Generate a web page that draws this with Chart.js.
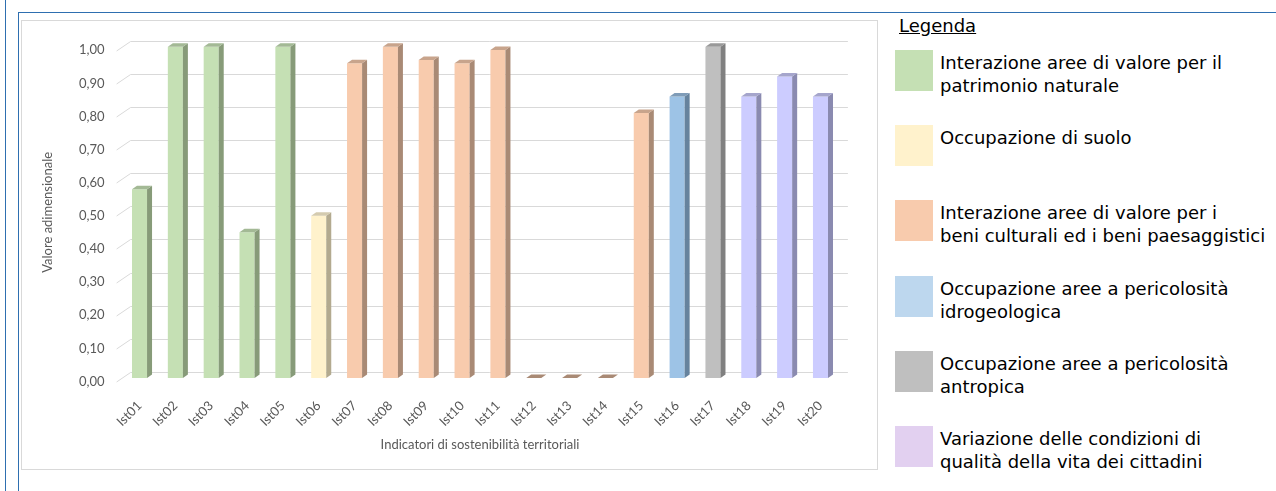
<!DOCTYPE html>
<html lang="it">
<head>
<meta charset="utf-8">
<title>Indicatori di sostenibilità territoriali</title>
<script src="https://cdn.jsdelivr.net/npm/chart.js@4/dist/chart.umd.min.js"></script>
<style>
    html, body { margin: 0; padding: 0; background: #fff; }
    body { width: 1276px; height: 491px; position: relative; overflow: hidden; font-family: 'DejaVu Sans', sans-serif; }
    .rule { position: absolute; background: #2e6fb0; }
    #box { position: absolute; left: 21px; top: 20px; width: 855px; height: 448px; border: 1px solid #d9d9d9; }
    #box canvas { display: block; }
    #legend-title { position: absolute; left: 899px; top: 14px; font-size: 18px; line-height: 23px; text-decoration: underline; color: #000; }
    .item { position: absolute; left: 895px; }
    .swatch { position: absolute; left: 0; top: 0; width: 38px; height: 41px; }
    .label { position: absolute; left: 45px; top: 1px; font-size: 18px; line-height: 23px; white-space: pre; color: #000; }
</style>
</head>
<body>
<div class="rule" style="left:5px;top:0;width:1px;height:491px"></div>
<div class="rule" style="left:18px;top:12px;width:1px;height:479px"></div>
<div class="rule" style="left:18px;top:12px;width:1258px;height:1px"></div>

<div id="box"><canvas id="chart" width="855" height="448"></canvas></div>

<div id="legend-title">Legenda</div>
<div id="legend"></div>

<script>
const CATEGORIES = ['Ist01', 'Ist02', 'Ist03', 'Ist04', 'Ist05', 'Ist06', 'Ist07', 'Ist08', 'Ist09', 'Ist10',
                    'Ist11', 'Ist12', 'Ist13', 'Ist14', 'Ist15', 'Ist16', 'Ist17', 'Ist18', 'Ist19', 'Ist20'];
const VALUES = [0.57, 1.00, 1.00, 0.44, 1.00, 0.49, 0.95, 1.00, 0.96, 0.95,
                0.99, 0, 0, 0, 0.80, 0.85, 1.00, 0.85, 0.91, 0.85];
// which legend group each indicator belongs to
const GROUP_OF = [0, 0, 0, 0, 0, 1, 2, 2, 2, 2, 2, 2, 2, 2, 2, 3, 4, 5, 5, 5];

const GROUP_NAMES = [
    'Interazione aree di valore per il\npatrimonio naturale',
    'Occupazione di suolo',
    'Interazione aree di valore per i\nbeni culturali ed i beni paesaggistici',
    'Occupazione aree a pericolosità\nidrogeologica',
    'Occupazione aree a pericolosità\nantropica',
    'Variazione delle condizioni di\nqualità della vita dei cittadini'
];
const LEGEND_COLORS = ['#c5e0b4', '#fff2cc', '#f8cbad', '#bdd7ee', '#bfbfbf', '#e2d0f0'];
const BAR_FRONT = ['#c5e0b4', '#fff2cc', '#f8cbad', '#9dc3e6', '#bfbfbf', '#ccccff'];
const BAR_SIDE = ['#879b79', '#b3aa8f', '#a98a75', '#66839e', '#808080', '#8a8ab0'];
const BAR_TOP = ['#a3b995', '#d4cbaf', '#c8a48c', '#7f9cb8', '#999999', '#a5a5cc'];
const Y_TICKS = { min: 0, max: 1, step: 0.1 };

const TEXT_GREY = '#595959';
const DX = 5, DY = 3.5;

// legend, html on the right of the chart
const legendEl = document.getElementById('legend');
GROUP_NAMES.forEach((name, i) => {
    const top = 50 + i * 75.2;
    legendEl.innerHTML +=
        '<div class="item" style="top:' + top + 'px">' +
        '<div class="swatch" style="background:' + LEGEND_COLORS[i] + '"></div>' +
        '<div class="label">' + name + '</div></div>';
});

// perspective grid behind the bars and the side/top faces of each column
const bar3d = {
    id: 'bar3d',
    beforeDatasetsDraw(chart) {
        const { ctx, chartArea } = chart;
        const y = chart.scales.y;
        ctx.save();
        ctx.strokeStyle = '#d9d9d9';
        ctx.lineWidth = 1;
        y.ticks.forEach(t => {
            const py = Math.round(y.getPixelForValue(t.value)) + 0.5;
            ctx.beginPath();
            ctx.moveTo(chartArea.left - 5, py + 3.5);
            ctx.lineTo(chartArea.left + 9, py - 6);
            ctx.lineTo(chartArea.right + 9.5, py - 6);
            ctx.stroke();
        });
        ctx.restore();
    },
    afterDatasetsDraw(chart) {
        const ctx = chart.ctx;
        const meta = chart.getDatasetMeta(0);
        ctx.save();
        meta.data.forEach((bar, i) => {
            const { x, y, base, width } = bar.getProps(['x', 'y', 'base', 'width'], true);
            const g = GROUP_OF[i];
            const x0 = x - width / 2, x1 = x + width / 2;

            ctx.fillStyle = BAR_SIDE[g];
            ctx.beginPath();
            ctx.moveTo(x1, y);
            ctx.lineTo(x1 + DX, y - DY);
            ctx.lineTo(x1 + DX, base - DY);
            ctx.lineTo(x1, base);
            ctx.closePath();
            ctx.fill();

            ctx.fillStyle = VALUES[i] === 0 ? BAR_SIDE[g] : BAR_TOP[g];
            ctx.beginPath();
            ctx.moveTo(x0, y);
            ctx.lineTo(x1, y);
            ctx.lineTo(x1 + DX, y - DY);
            ctx.lineTo(x0 + DX, y - DY);
            ctx.closePath();
            ctx.fill();
        });
        ctx.restore();
    }
};

Chart.defaults.font.family = 'Lato, sans-serif';
Chart.defaults.font.size = 13;
Chart.defaults.color = TEXT_GREY;

new Chart(document.getElementById('chart'), {
    type: 'bar',
    data: {
        labels: CATEGORIES,
        datasets: [{
            data: VALUES,
            backgroundColor: GROUP_OF.map(g => BAR_FRONT[g]),
            borderWidth: 0,
            barPercentage: 0.42,
            categoryPercentage: 1
        }]
    },
    options: {
        responsive: false,
        animation: false,
        layout: { padding: { top: 25.7, right: 38.6, left: 0, bottom: 0 } },
        plugins: { legend: { display: false }, tooltip: { enabled: false } },
        scales: {
            x: {
                grid: { display: false, drawTicks: false },
                border: { display: false },
                ticks: { autoSkip: false, minRotation: 45, maxRotation: 45, padding: 20, color: TEXT_GREY },
                title: { display: true, text: 'Indicatori di sostenibilità territoriali', color: TEXT_GREY,
                         font: { size: 13 }, padding: { top: 0, bottom: 16 } },
                afterFit(scale) { scale.height = 91; }
            },
            y: {
                min: Y_TICKS.min,
                max: Y_TICKS.max,
                grid: { display: false, drawTicks: false },
                border: { display: false },
                ticks: {
                    stepSize: Y_TICKS.step,
                    padding: 17,
                    labelOffset: 3.5,
                    color: TEXT_GREY,
                    callback: v => v.toFixed(2).replace('.', ',')
                },
                title: { display: true, text: 'Valore adimensionale', color: TEXT_GREY,
                         font: { size: 13 }, padding: { top: 18, bottom: 0 } },
                afterFit(scale) { scale.width = 99.6; }
            }
        }
    },
    plugins: [bar3d]
});
</script>
</body>
</html>
